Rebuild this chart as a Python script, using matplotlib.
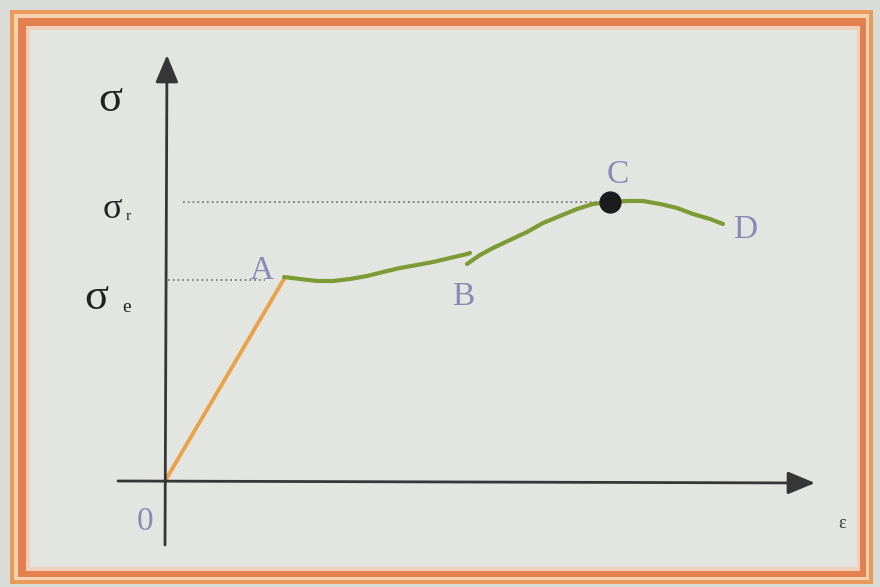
import matplotlib
matplotlib.use("Agg")
import matplotlib.pyplot as plt
from matplotlib.patches import Rectangle

# strain / stress in drawing units (origin at 0, y up)
elastic_eps = [0, 119]
elastic_sig = [0, 202]

yield_eps = [119, 135, 152, 168, 185, 202, 218, 235, 252, 268, 285, 302, 305]
yield_sig = [204, 202, 200, 200, 202, 205, 209, 213, 216, 219, 223, 227, 228]

harden_eps = [302, 315, 328, 345, 362, 378, 395, 412, 428, 445]
harden_sig = [217, 226, 233, 241, 249, 258, 265, 272, 277, 279]

neck_eps = [445, 462, 478, 495, 512, 528, 545, 558]
neck_sig = [279, 280, 280, 277, 273, 267, 262, 257]

peak_eps = 445
peak_sig = 279
yield_level = 201

point_labels = ["A", "B", "C", "D"]
point_label_pos = [(97, 210), (298, 184), (453, 306), (580, 251)]

W, H = 880, 587
fig = plt.figure(figsize=(W / 100, H / 100), dpi=100)
fig.patch.set_facecolor("#d9dcd7")


def fr(x0, y0, x1, y1, color):
    # rectangle given in image pixels (y down)
    fig.patches.append(Rectangle((x0 / W, 1 - y1 / H), (x1 - x0) / W, (y1 - y0) / H,
                                 transform=fig.transFigure, facecolor=color,
                                 edgecolor="none", zorder=-5))


# orange double frame
fr(10, 10, 873, 584, "#e99b5c")
fr(14, 14, 869, 580, "#f5d2b0")
fr(18, 18, 866, 577, "#e4804f")
fr(26, 26, 860, 571, "#f2cfbb")
fr(30, 30, 857, 567, "#e3e5e1")

ax = fig.add_axes([0, 0, 1, 1])
ax.set_zorder(5)
ax.set_xlim(-165, W - 165)
ax.set_ylim(481 - H, 481)
ax.axis("off")
ax.patch.set_alpha(0)

axis_col = "#363636"
# axes with arrows
ax.annotate("", xy=(2, 426), xytext=(0, -64),
            arrowprops=dict(arrowstyle="-|>,head_length=0.6,head_width=0.25",
                            mutation_scale=28, lw=2.0, color=axis_col,
                            shrinkA=0, shrinkB=0))
ax.annotate("", xy=(650, -2), xytext=(-47, 0),
            arrowprops=dict(arrowstyle="-|>,head_length=0.6,head_width=0.25",
                            mutation_scale=28, lw=2.0, color=axis_col,
                            shrinkA=0, shrinkB=0))

# dotted guide lines
ax.plot([18, peak_eps - 10], [peak_sig, peak_sig], ls=":", lw=1.3, color="#7a7a7a")
ax.plot([3, 100], [yield_level, yield_level], ls=":", lw=1.3, color="#7a7a7a")

# curve
ax.plot(elastic_eps, elastic_sig, color="#eaa24a", lw=2.8, solid_capstyle="round")
green = "#7d9b34"
for xs, ys in [(yield_eps, yield_sig), (harden_eps, harden_sig), (neck_eps, neck_sig)]:
    ax.plot(xs, ys, color=green, lw=3.0, solid_capstyle="round", solid_joinstyle="round")
ax.plot([peak_eps], [peak_sig], "o", color="#1c1c1c", ms=15, zorder=5)

serif = ["Liberation Serif", "DejaVu Serif"]
lab_col = "#8a88b6"
for lab, (x, y) in zip(point_labels, point_label_pos):
    ax.text(x, y, lab, family=serif, fontsize=24, color=lab_col,
            ha="center", va="center")
ax.text(-20, -41, "0", family=serif, fontsize=24, color=lab_col, ha="center", va="center")
ax.text(677, -43, "ε", family=serif, fontsize=13, color="#333333", ha="center", va="center")

# stress axis labels
sig_col = "#222222"
ax.text(-55, 381, "σ", family=serif, fontsize=32, color=sig_col, ha="center", va="center")
ax.text(-53, 271, "σ", family=serif, fontsize=26, color=sig_col, ha="center", va="center")
ax.text(-37, 264, "r", family=serif, fontsize=11, color=sig_col, ha="center", va="center")
ax.text(-69, 183, "σ", family=serif, fontsize=32, color=sig_col, ha="center", va="center")
ax.text(-38, 174, "e", family=serif, fontsize=14, color=sig_col, ha="center", va="center")

fig.savefig("out.png", dpi=100)
